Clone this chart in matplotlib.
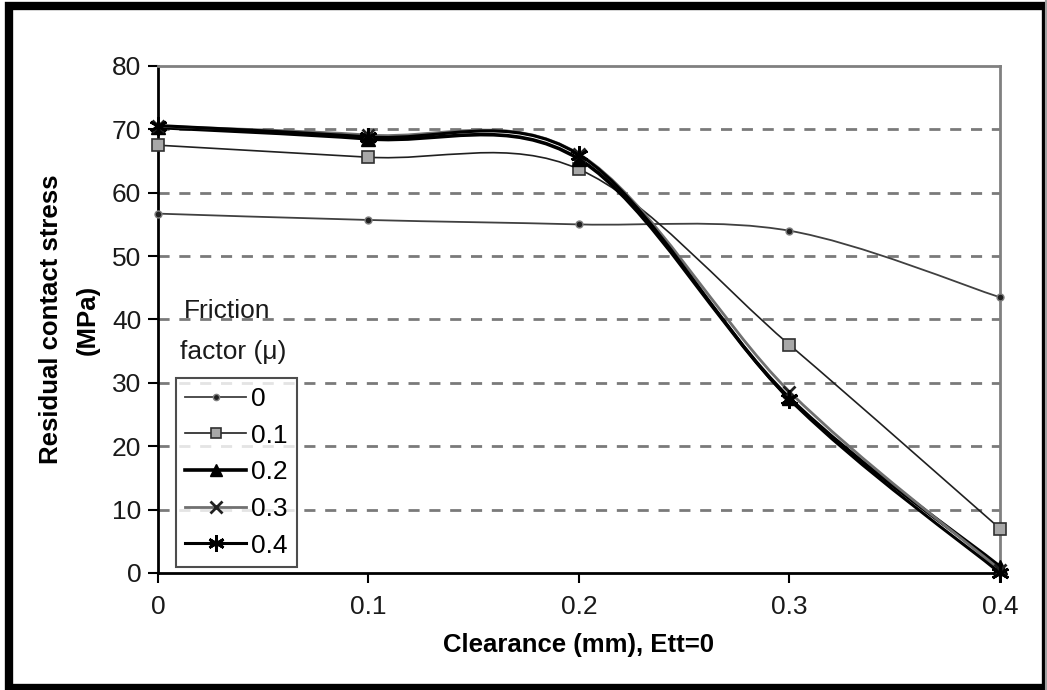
import matplotlib
matplotlib.use("Agg")
import matplotlib.pyplot as plt
import numpy as np
from matplotlib.path import Path
from matplotlib.patches import PathPatch, Rectangle
from matplotlib.lines import Line2D

plt.rcParams['font.family'] = ['Liberation Sans', 'DejaVu Sans']

clearance = [0, 0.1, 0.2, 0.3, 0.4]
mu_labels = ['0', '0.1', '0.2', '0.3', '0.4']
stress_mu0 = [56.7, 55.7, 55.0, 54.0, 43.5]
stress_mu01 = [67.5, 65.6, 63.7, 36.0, 7.0]
stress_mu02 = [70.3, 68.5, 65.3, 27.6, 1.0]
stress_mu03 = [70.5, 69.1, 66.1, 28.6, 0.5]
stress_mu04 = [70.6, 68.8, 66.0, 27.4, 0.0]

series = [stress_mu0, stress_mu01, stress_mu02, stress_mu03, stress_mu04]
styles = [
    dict(color='#404040', lw=1.3, marker='o', ms=5, mfc='#202020', mec='#808080', mew=1.0),
    dict(color='#202020', lw=1.2, marker='s', ms=8, mfc='#a8a8a8', mec='#303030', mew=1.2),
    dict(color='#000000', lw=2.6, marker='^', ms=10, mfc='#000000', mec='#000000', mew=1.0),
    dict(color='#707070', lw=2.0, marker='x', ms=9, mfc='none', mec='#202020', mew=2.0),
    dict(color='#000000', lw=2.2, marker=(6, 2, 0), ms=13, mfc='none', mec='#000000', mew=2.0),
]


def smooth_path(x, y):
    # Excel-style smoothed line: Catmull-Rom through the points as cubic Beziers
    pts = np.column_stack([x, y])
    n = len(pts)
    verts = [pts[0]]
    codes = [Path.MOVETO]
    for i in range(n - 1):
        p0 = pts[max(i - 1, 0)]
        p1 = pts[i]
        p2 = pts[i + 1]
        p3 = pts[min(i + 2, n - 1)]
        c1 = p1 + (p2 - p0) / 6.0
        c2 = p2 - (p3 - p1) / 6.0
        verts += [c1, c2, p2]
        codes += [Path.CURVE4] * 3
    return Path(verts, codes)


fig = plt.figure(figsize=(10.47, 6.9), dpi=100)
ax = fig.add_axes([0.1509, 0.1696, 0.8042, 0.7348])

for vals, st in zip(series, styles):
    ax.add_patch(PathPatch(smooth_path(clearance, vals), fill=False,
                           edgecolor=st['color'], lw=st['lw'], zorder=3))
for vals, st in zip(series, styles):
    ax.plot(clearance, vals, linestyle='none', marker=st['marker'], ms=st['ms'],
            mfc=st['mfc'], mec=st['mec'], mew=st['mew'], zorder=4, clip_on=False)

ax.set_xlim(0, 0.4)
ax.set_ylim(0, 80)
ax.set_xticks(clearance)
ax.set_xticklabels(['0', '0.1', '0.2', '0.3', '0.4'])
ax.set_yticks(np.arange(0, 81, 10))

for yv in range(10, 80, 10):
    ax.axhline(yv, color='#7a7a7a', lw=2.0, ls=(0, (4, 3.5)), zorder=1)

ax.spines['left'].set_color('black')
ax.spines['bottom'].set_color('black')
ax.spines['left'].set_linewidth(2.0)
ax.spines['bottom'].set_linewidth(2.0)
ax.spines['top'].set_color('#808080')
ax.spines['right'].set_color('#808080')
ax.spines['top'].set_linewidth(2.0)
ax.spines['right'].set_linewidth(2.0)

ax.tick_params(axis='both', direction='out', length=7, width=1.5, color='black',
               labelsize=19, labelcolor='#1a1a1a')
ax.tick_params(axis='x', pad=9)
ax.tick_params(axis='y', pad=5)

ax.set_xlabel('Clearance (mm), Ett=0', fontsize=18.5, fontweight='bold', labelpad=10)
ax.set_ylabel('Residual contact stress\n(MPa)', fontsize=18.5, fontweight='bold',
              labelpad=9, linespacing=1.65)

ax.text(0.0125, 40.3, 'Friction', fontsize=19, color='#1a1a1a')
ax.text(0.0105, 33.7, 'factor (\u03bc)', fontsize=19, color='#1a1a1a')

handles = [Line2D([], [], color=st['color'], lw=st['lw'], marker=st['marker'], ms=st['ms'] * 0.9,
                  mfc=st['mfc'], mec=st['mec'], mew=st['mew']) for st in styles]
leg = ax.legend(handles, mu_labels, loc='lower left', bbox_to_anchor=(0.0215, 0.012),
                fontsize=19, frameon=True, fancybox=False, handlelength=2.3,
                handletextpad=0.2, labelspacing=0.48, borderpad=0.35, borderaxespad=0.0)
leg.get_frame().set_edgecolor('#202020')
leg.get_frame().set_linewidth(1.5)
leg.set_zorder(5)

# outer frame of the figure
fig.patches.append(Rectangle((9 / 1047, 2 / 690), 1 - 10 / 1047, 1 - 8 / 690,
                             transform=fig.transFigure, fill=False,
                             edgecolor='black', lw=6, zorder=10))
fig.add_artist(Line2D([1045.5 / 1047, 1045.5 / 1047], [0, 1], transform=fig.transFigure,
                      color='#a0a0a0', lw=1.5, zorder=11))

fig.savefig('out.png', dpi=100, facecolor='white')
